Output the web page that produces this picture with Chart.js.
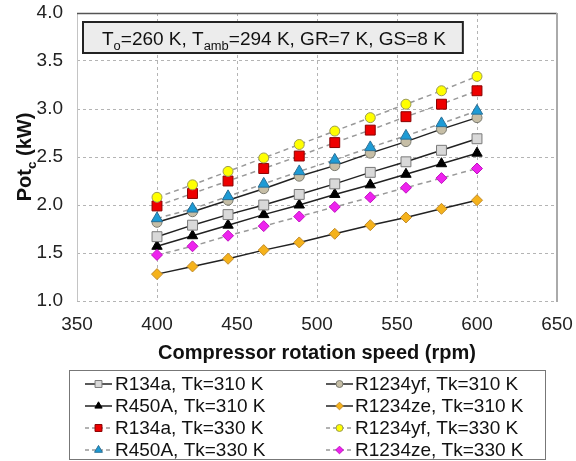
<!DOCTYPE html>
<html><head><meta charset="utf-8">
<script src="https://cdn.jsdelivr.net/npm/chart.js@4.4.1/dist/chart.umd.min.js"></script>
<style>html,body{margin:0;padding:0;background:#fff;}canvas{display:block;}</style>
</head><body>
<canvas id="c" width="576" height="461"></canvas>
<script>
// ---- data ----
const rpm = [400, 422.2, 444.4, 466.7, 488.9, 511.1, 533.3, 555.6, 577.8, 600];
const xTicks = [350, 400, 450, 500, 550, 600, 650];
const yTicks = [1.0, 1.5, 2.0, 2.5, 3.0, 3.5, 4.0];

const r134a_310   = [1.67, 1.79, 1.90, 2.00, 2.11, 2.22, 2.34, 2.45, 2.57, 2.69];
const r450a_310   = [1.57, 1.68, 1.79, 1.90, 2.00, 2.11, 2.21, 2.32, 2.43, 2.54];
const r134a_330   = [1.99, 2.12, 2.25, 2.38, 2.51, 2.65, 2.78, 2.92, 3.05, 3.19];
const r450a_330   = [1.86, 1.96, 2.09, 2.22, 2.35, 2.47, 2.60, 2.72, 2.85, 2.98];
const r1234yf_310 = [1.82, 1.93, 2.05, 2.17, 2.30, 2.41, 2.54, 2.66, 2.79, 2.91];
const r1234ze_310 = [1.28, 1.36, 1.44, 1.53, 1.61, 1.70, 1.79, 1.87, 1.96, 2.05];
const r1234yf_330 = [2.08, 2.21, 2.35, 2.49, 2.63, 2.77, 2.91, 3.05, 3.19, 3.34];
const r1234ze_330 = [1.48, 1.57, 1.68, 1.78, 1.88, 1.98, 2.08, 2.18, 2.28, 2.38];

const labels = {
  a310: 'R134a, Tk=310 K', b310: 'R450A, Tk=310 K', a330: 'R134a, Tk=330 K', b330: 'R450A, Tk=330 K',
  c310: 'R1234yf, Tk=310 K', d310: 'R1234ze, Tk=310 K', c330: 'R1234yf, Tk=330 K', d330: 'R1234ze, Tk=330 K'
};
const xTitle = 'Compressor rotation speed (rpm)';

// ---- styles ----
const FONT = '"Liberation Sans", Arial, Helvetica, sans-serif';
const SOLID = {color: '#222222', dash: []};
const DASH = {color: '#999999', dash: [5, 4]};

function mk(key, vals, line, style, fill, stroke, radius) {
  return {
    key, label: labels[key],
    data: vals.map((v, i) => ({x: rpm[i], y: v})),
    borderColor: line.color, borderDash: line.dash, borderWidth: 1.5,
    pointStyle: style, pointRadius: radius, pointHoverRadius: radius,
    pointBackgroundColor: fill, pointBorderColor: stroke, pointBorderWidth: 1,
    backgroundColor: fill, fill: false, tension: 0
  };
}

// first dataset is drawn on top
const datasets = [
  mk('c330', r1234yf_330, DASH, 'circle', '#ffff00', '#9a9a55', 5),
  mk('a330', r134a_330, DASH, 'rect', '#ee0000', '#8a0000', 7),
  mk('b330', r450a_330, DASH, 'triangle', '#1d9bd5', '#2a6f95', 6.5),
  mk('d330', r1234ze_330, DASH, 'rectRot', '#ee22ee', '#c010c0', 5.5),
  mk('c310', r1234yf_310, SOLID, 'circle', '#c6bea6', '#7a7a70', 5),
  mk('a310', r134a_310, SOLID, 'rect', '#d9d9d9', '#7a7a7a', 7),
  mk('b310', r450a_310, SOLID, 'triangle', '#000000', '#000000', 6),
  mk('d310', r1234ze_310, SOLID, 'rectRot', '#f5b21b', '#c08a2a', 5.5)
];

function richText(ctx, parts, x, y, size, bold) {
  let cx = x;
  for (const p of parts) {
    const s = p.sub ? size * 0.68 : size;
    ctx.font = (bold ? 'bold ' : '') + s + 'px ' + FONT;
    ctx.fillText(p.t, cx, y + (p.sub ? size * 0.25 : 0));
    cx += ctx.measureText(p.t).width;
  }
  return cx - x;
}
function richWidth(ctx, parts, size, bold) {
  let w = 0;
  for (const p of parts) {
    const s = p.sub ? size * 0.68 : size;
    ctx.font = (bold ? 'bold ' : '') + s + 'px ' + FONT;
    w += ctx.measureText(p.t).width;
  }
  return w;
}
function seg(ctx, x1, y1, x2, y2) { ctx.beginPath(); ctx.moveTo(x1, y1); ctx.lineTo(x2, y2); ctx.stroke(); }

const deco = {
  id: 'deco',
  afterDraw(chart) {
    const ctx = chart.ctx, a = chart.chartArea;
    ctx.save();
    ctx.setLineDash([]);
    // frame
    ctx.lineWidth = 1; ctx.strokeStyle = '#c4c4c4';
    seg(ctx, a.left + 0.5, a.top, a.left + 0.5, a.bottom);
    ctx.strokeStyle = '#555555'; ctx.lineWidth = 1.5;
    seg(ctx, a.left, a.top + 0.5, a.right, a.top + 0.5);
    ctx.strokeStyle = '#aaaaaa'; ctx.lineWidth = 2;
    seg(ctx, a.right, a.top, a.right, a.bottom + 1);

    // annotation box
    const ann = [{t: 'T'}, {t: 'o', sub: true}, {t: '=260 K, T'}, {t: 'amb', sub: true}, {t: '=294 K, GR=7 K, GS=8 K'}];
    const aw = richWidth(ctx, ann, 19, false);
    ctx.fillStyle = '#ececec'; ctx.strokeStyle = '#222'; ctx.lineWidth = 2;
    ctx.fillRect(83, 22, aw + 36, 31);
    ctx.strokeRect(83, 22, aw + 36, 31);
    ctx.fillStyle = '#111'; ctx.textBaseline = 'alphabetic'; ctx.textAlign = 'left';
    richText(ctx, ann, 102, 45, 19, false);

    // x title
    ctx.fillStyle = '#111';
    ctx.font = 'bold 20px ' + FONT; ctx.textAlign = 'center';
    ctx.fillText(xTitle, (a.left + a.right) / 2, 359);

    // y title
    const yt = [{t: 'Pot'}, {t: 'c', sub: true}, {t: ' (kW)'}];
    const yw = richWidth(ctx, yt, 20, true);
    ctx.save();
    ctx.translate(31, 157);
    ctx.rotate(-Math.PI / 2);
    ctx.textAlign = 'left';
    richText(ctx, yt, -yw / 2, 0, 20, true);
    ctx.restore();

    // legend
    ctx.lineWidth = 1; ctx.strokeStyle = '#777';
    ctx.strokeRect(69.5, 370.5, 476, 89);
    const cols = [['a310', 'b310', 'a330', 'b330'], ['c310', 'd310', 'c330', 'd330']];
    const colX = [{l1: 85, l2: 112, m: 98.5, t: 115}, {l1: 326, l2: 353, m: 339.5, t: 355}];
    const rowY = [384, 406, 428, 450];
    cols.forEach((col, ci) => {
      col.forEach((key, ri) => {
        const ds = datasets.find(d => d.key === key);
        const y = rowY[ri], c = colX[ci];
        ctx.save();
        ctx.strokeStyle = ds.borderColor; ctx.lineWidth = 1.5;
        ctx.setLineDash(ds.borderDash.length ? [4, 3] : []);
        seg(ctx, c.l1, y, c.l2, y);
        ctx.setLineDash([]);
        ctx.fillStyle = ds.pointBackgroundColor; ctx.strokeStyle = ds.pointBorderColor; ctx.lineWidth = 1;
        Chart.helpers.drawPoint(ctx, {pointStyle: ds.pointStyle, radius: ds.pointRadius * 0.7, rotation: 0, borderWidth: 1}, c.m, y);
        ctx.restore();
        ctx.fillStyle = '#111'; ctx.font = '19px ' + FONT; ctx.textAlign = 'left'; ctx.textBaseline = 'middle';
        ctx.fillText(ds.label, c.t, y + 1);
      });
    });
    ctx.restore();
  }
};

function noPad(s) { s.paddingTop = 0; s.paddingBottom = 0; s.paddingLeft = 0; s.paddingRight = 0; }

new Chart(document.getElementById('c'), {
  type: 'line',
  data: {datasets},
  options: {
    responsive: false, animation: false, events: [],
    layout: {padding: {top: 13, right: 19, left: 0, bottom: 0}},
    plugins: {legend: {display: false}, tooltip: {enabled: false}},
    scales: {
      x: {
        type: 'linear', min: xTicks[0], max: xTicks[xTicks.length - 1],
        afterBuildTicks: s => { s.ticks = xTicks.map(v => ({value: v})); },
        ticks: {color: '#222', padding: 12, font: {size: 19, family: FONT}, maxRotation: 0, callback: v => String(v)},
        grid: {color: '#b4b4b4', lineWidth: 1, drawTicks: false},
        border: {display: false, dash: [3, 3]},
        afterFit: s => { s.height = 160; noPad(s); }
      },
      y: {
        min: yTicks[0], max: yTicks[yTicks.length - 1],
        afterBuildTicks: s => { s.ticks = yTicks.map(v => ({value: v})); },
        ticks: {color: '#222', padding: 14, font: {size: 19, family: FONT}, callback: v => Number(v).toFixed(1)},
        grid: {color: '#b4b4b4', lineWidth: 1, drawTicks: false},
        border: {display: false, dash: [3, 3]},
        afterFit: s => { s.width = 77; noPad(s); }
      }
    }
  },
  plugins: [deco]
});
</script>
</body></html>
